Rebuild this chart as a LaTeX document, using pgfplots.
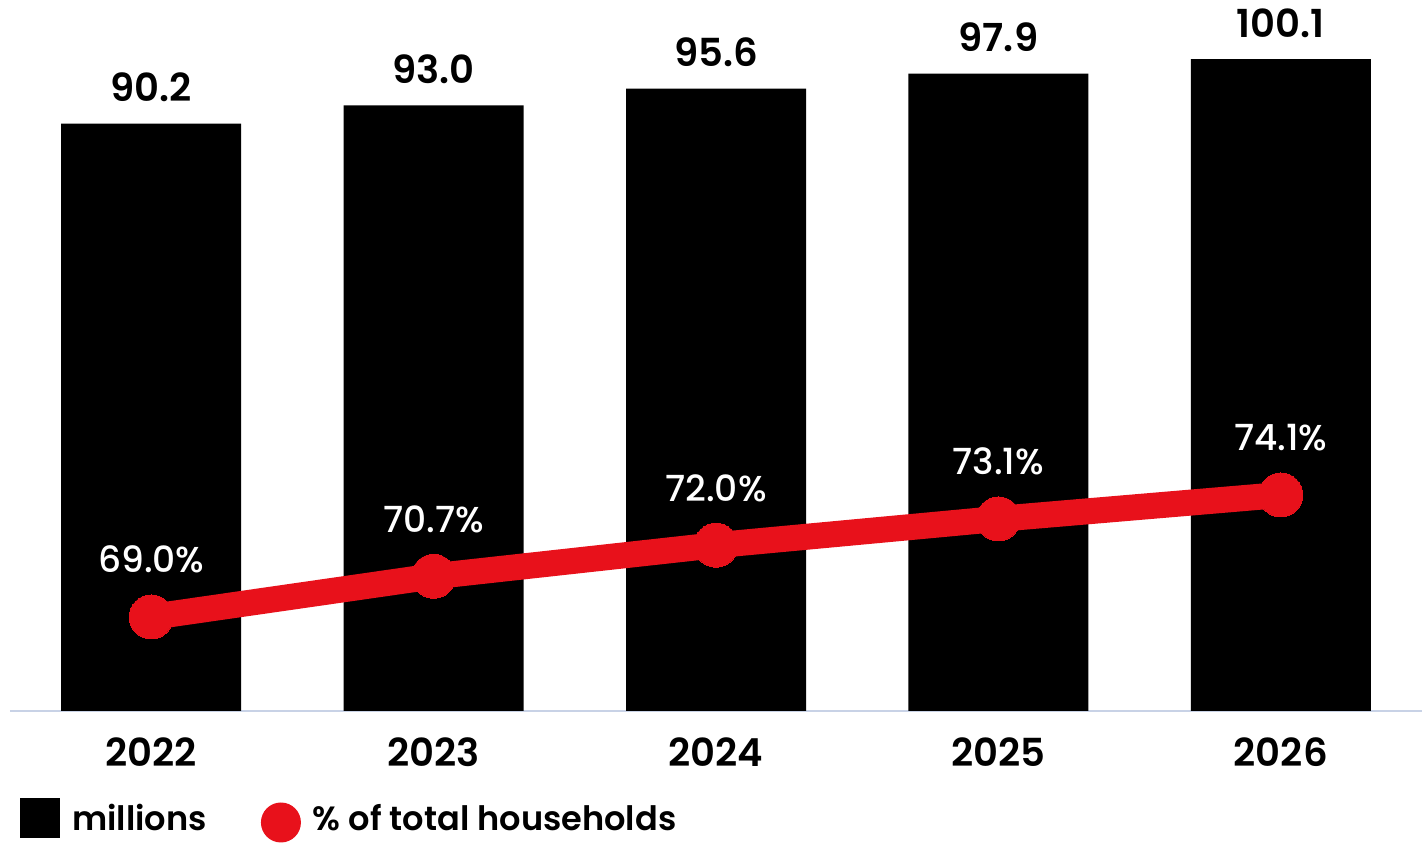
\documentclass[border=0pt]{standalone}
\usepackage{fontspec}
\setmainfont{Poppins}[BoldFont={Poppins SemiBold}]
\newfontfamily\medfont{Poppins Medium}
\usepackage{pgfplots}
\pgfplotsset{compat=1.18}
\definecolor{redline}{RGB}{232,17,27}
\definecolor{baseln}{RGB}{200,210,230}
\begin{document}
\begin{tikzpicture}
\path[use as bounding box] (0,0) rectangle (714pt,422pt);
\begin{axis}[
  at={(5pt,66.5pt)}, anchor=south west,
  scale only axis, width=706pt, height=355.5pt,
  xmin=-0.5, xmax=4.5, ymin=0, ymax=109.2,
  axis y line=none, axis x line*=bottom,
  x axis line style={-, draw=baseln, line width=1pt},
  xtick={0,1,2,3,4}, xticklabels={2022,2023,2024,2025,2026},
  major tick length=0pt,
  xticklabel style={font=\bfseries\fontsize{19.3}{20}\selectfont, anchor=base, yshift=-28pt},
  clip=false,
]
\addplot[ybar, fill=black, draw=none, bar width=90pt,
  nodes near coords, point meta=explicit symbolic,
  nodes near coords style={font=\bfseries\fontsize{19.3}{20}\selectfont, anchor=base, inner sep=0pt, yshift=11pt}]
  coordinates {(0,90.2) [90.2] (1,93.0) [93.0] (2,95.6) [95.6] (3,97.9) [97.9] (4,100.1) [100.1]};
\end{axis}
\begin{axis}[
  at={(5pt,66.5pt)}, anchor=south west,
  scale only axis, width=706pt, height=355.5pt,
  xmin=-0.5, xmax=4.5, ymin=65.07, ymax=94.79,
  hide axis, clip=false,
  legend columns=-1,
  legend style={at={(axis description cs:0.00708,-0.154)}, anchor=west,
    draw=none, fill=none, inner sep=0pt,
    font=\bfseries\fontsize{16.8}{18}\selectfont,
    nodes={inner sep=0pt},
    /tikz/every odd column/.append style={column sep=6pt},
    /tikz/every even column/.append style={column sep=27pt}},
  legend cell align=left,
]
\addlegendimage{legend image code/.code={\fill[black, draw=none] (0pt,-10pt) rectangle (20pt,10pt);}}
\addlegendentry{millions}
\addplot[redline, line width=13pt, mark=*, mark size=11pt,
  mark options={line width=0pt, fill=redline},
  nodes near coords, point meta=explicit symbolic,
  nodes near coords style={white, font=\medfont\fontsize{18}{20}\selectfont, anchor=base, inner sep=0pt, yshift=22pt},
  legend image code/.code={\path[fill=redline, draw=none, line width=0pt] (10pt,-2pt) circle (10pt);}]
  coordinates {(0,69.0) [69.0\%] (1,70.7) [70.7\%] (2,72.0) [72.0\%] (3,73.1) [73.1\%] (4,74.1) [74.1\%]};
\addlegendentry{\% of total households}
\end{axis}
\end{tikzpicture}
\end{document}
